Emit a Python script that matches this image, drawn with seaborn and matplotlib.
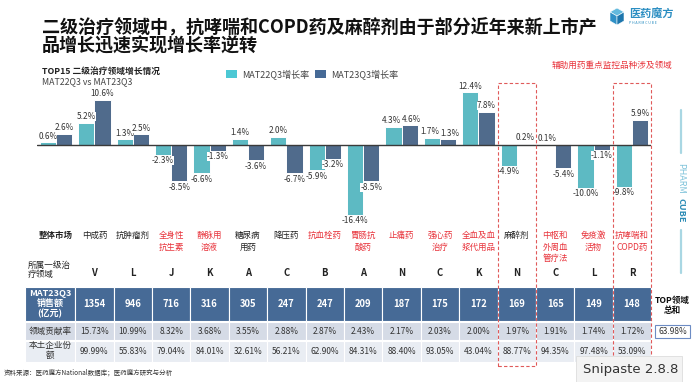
import matplotlib
matplotlib.use("Agg")
import matplotlib.pyplot as plt
import seaborn as sns
import pandas as pd
from matplotlib.patches import Rectangle, Polygon
from matplotlib.transforms import blended_transform_factory

# ---------------- data ----------------
categories = ["整体市场", "中成药", "抗肿瘤剂", "全身性\n抗生素", "静脉用\n溶液", "糖尿病\n用药",
              "降压药", "抗血栓药", "胃肠抗\n酸药", "止痛药", "强心药\n治疗", "全血及血\n浆代用品",
              "麻醉剂", "中枢和\n外周血\n管疗法", "免疫激\n活物", "抗哮喘和\nCOPD药"]
category_red = [False, False, False, True, True, False, False, True, True, True, True, True,
                False, True, True, True]
series_names = ["MAT22Q3增长率", "MAT23Q3增长率"]
growth_mat22 = [0.6, 5.2, 1.3, -2.3, -6.6, 1.4, 2.0, -5.9, -16.4, 4.3, 1.7, 12.4, -4.9, 0.1, -10.0, -9.8]
growth_mat23 = [2.6, 10.6, 2.5, -8.5, -1.3, -3.6, -6.7, -3.2, -8.5, 4.6, 1.3, 7.8, 0.2, -5.4, -1.1, 5.9]
level1_area = ["V", "L", "J", "K", "A", "C", "B", "A", "N", "C", "K", "N", "C", "L", "R"]
sales_mat23 = [1354, 946, 716, 316, 305, 247, 247, 209, 187, 175, 172, 169, 165, 149, 148]
contribution = ["15.73%", "10.99%", "8.32%", "3.68%", "3.55%", "2.88%", "2.87%", "2.43%", "2.17%",
                "2.03%", "2.00%", "1.97%", "1.91%", "1.74%", "1.72%"]
local_share = ["99.99%", "55.83%", "79.04%", "84.01%", "32.61%", "56.21%", "62.90%", "84.31%",
               "88.40%", "93.05%", "43.04%", "88.77%", "94.35%", "97.48%", "53.09%"]
top_total = "63.98%"
highlight_cols = [12, 15]

# ---------------- style ----------------
sns.set_theme(style="white")
plt.rcParams["font.family"] = ["Noto Sans CJK SC", "DejaVu Sans"]

CYAN = "#4cc8d4"
NAVY = "#466a96"
RED = "#e8333b"
TXT = "#333333"

W, H = 692, 382
fig = plt.figure(figsize=(W / 100, H / 100), dpi=100)
fig.patch.set_facecolor("white")

def fx(x):
    return x / W

def fy(y):
    return 1 - y / H

# main bar axes: x -0.5..15.5 -> px 36.8..651.2 ; baseline at px 145, 4.25 px per %
ax_l, ax_r = 36.8, 651.2
ax_t, ax_b = 85, 225
ax = fig.add_axes([fx(ax_l), fy(ax_b), (ax_r - ax_l) / W, (ax_b - ax_t) / H])
ax.set_facecolor("none")

df = pd.DataFrame({
    "cat": categories * 2,
    "val": growth_mat22 + growth_mat23,
    "series": [series_names[0]] * len(categories) + [series_names[1]] * len(categories),
})
sns.barplot(data=df, x="cat", y="val", hue="series", order=categories, hue_order=series_names,
            palette=[CYAN, NAVY], width=0.84, edgecolor="white", linewidth=0.7,
            errorbar=None, legend=False, ax=ax)
ax.set_xlim(-0.5, len(categories) - 0.5)
ax.set_ylim(-(ax_b - 145) / 4.25, (145 - ax_t) / 4.25)
ax.axhline(0, color="#3a3a3a", lw=1.0, zorder=3)
for s in ax.spines.values():
    s.set_visible(False)
ax.set_xticks([])
ax.set_yticks([])
ax.set_xlabel("")
ax.set_ylabel("")

all_anns = []
for cont, vals in zip(ax.containers, [growth_mat22, growth_mat23]):
    anns = ax.bar_label(cont, labels=[f"{v:.1f}%" for v in vals], padding=1.2,
                        fontsize=5.9, color=TXT)
    for a in anns:
        a.set_bbox(dict(boxstyle="square,pad=0.0", facecolor="white", edgecolor="none"))
        a.set_zorder(5)
    all_anns.append(anns)

# nudge neighbouring labels apart when both sit at nearly the same height
for i, (v1, v2) in enumerate(zip(growth_mat22, growth_mat23)):
    if (v1 > 0) == (v2 > 0) and abs(v1 - v2) < 1.0:
        a1, a2 = all_anns[0][i], all_anns[1][i]
        x1, y1 = a1.xyann
        x2, y2 = a2.xyann
        a1.xyann = (x1 - 1.6, y1)
        a2.xyann = (x2 + 1.6, y2)

bt = blended_transform_factory(ax.transData, fig.transFigure)

# ---------------- titles ----------------
fig.text(fx(42), fy(27), "二级治疗领域中，抗哮喘和COPD药及麻醉剂由于部分近年来新上市产",
         fontsize=13, fontweight="bold", color="#111111", va="center", ha="left")
fig.text(fx(42), fy(46), "品增长迅速实现增长率逆转",
         fontsize=13, fontweight="bold", color="#111111", va="center", ha="left")
fig.text(fx(42), fy(71), "TOP15 二级治疗领域增长情况", fontsize=6.3, fontweight="bold",
         color="#222222", va="center", ha="left")
fig.text(fx(42), fy(82), "MAT22Q3 vs MAT23Q3", fontsize=6.3, color="#444444",
         va="center", ha="left")

# legend
for lx, col, name in [(226, CYAN, series_names[0]), (315, NAVY, series_names[1])]:
    fig.patches.append(Rectangle((fx(lx), fy(78)), 11 / W, 8 / H, transform=fig.transFigure,
                                 facecolor=col, edgecolor="none"))
    fig.text(fx(lx + 16), fy(74), name, fontsize=6.5, color="#444444", va="center", ha="left")

fig.text(fx(672), fy(65), "辅助用药重点监控品种涉及领域", fontsize=6.2, color=RED,
         va="center", ha="right")

# logo
cx, cy = 617, 16
top = (fx(cx), fy(cy - 8)); ur = (fx(cx + 7), fy(cy - 4)); lr = (fx(cx + 7), fy(cy + 5))
bot = (fx(cx), fy(cy + 9)); ll = (fx(cx - 7), fy(cy + 5)); ul = (fx(cx - 7), fy(cy - 4))
ctr = (fx(cx), fy(cy))
for pts, col in [([top, ur, ctr, ul], "#63b9dd"), ([ul, ctr, bot, ll], "#2f90c6"),
                 ([ctr, ur, lr, bot], "#1d76ad")]:
    fig.patches.append(Polygon(pts, closed=True, transform=fig.transFigure,
                               facecolor=col, edgecolor="white", lw=0.4))
fig.text(fx(629), fy(14), "医药魔方", fontsize=8, fontweight="bold", color="#2b8ec2",
         va="center", ha="left")
fig.text(fx(629), fy(23.5), "P H A R M C U B E", fontsize=2.6, color="#2b8ec2",
         va="center", ha="left")

# right vertical brand
fig.lines.append(plt.Line2D([fx(681), fx(681)], [fy(110), fy(153)], transform=fig.transFigure,
                            color="#a9d7e3", lw=1.6))
fig.lines.append(plt.Line2D([fx(681), fx(681)], [fy(230), fy(273)], transform=fig.transFigure,
                            color="#a9d7e3", lw=1.6))
fig.text(fx(681), fy(163), "PHARM", rotation=270, fontsize=6.5, color="#7fc3da",
         ha="center", va="top")
fig.text(fx(681), fy(223), "CUBE", rotation=270, fontsize=6.5, fontweight="bold",
         color="#2a8bb5", ha="center", va="bottom")

# ---------------- category labels ----------------
for i, (lab, red) in enumerate(zip(categories, category_red)):
    for k, line in enumerate(lab.split("\n")):
        fig.text(i, fy(235.5 + 11.5 * k), line, transform=bt, fontsize=6.1,
                 color=RED if red else "#222222", ha="center", va="center",
                 fontweight="bold" if i == 0 else "normal")

# 所属一级治疗领域 row
fig.text(fx(28), fy(265.5), "所属一级治", fontsize=6.2, color="#222222", ha="left", va="center")
fig.text(fx(28), fy(274.5), "疗领域", fontsize=6.2, color="#222222", ha="left", va="center")
for i, lv in enumerate(level1_area, start=1):
    fig.text(i, fy(273), lv, transform=bt, fontsize=6.8, fontweight="bold", color="#222222",
             ha="center", va="center")

# ---------------- table ----------------
rows = [(287, 321, NAVY), (322, 340, "#d5dbe6"), (341, 362, "#e9edf3")]
label_x0, label_x1 = 25, 75.2
for (y0, y1, col) in rows:
    fig.patches.append(Rectangle((fx(label_x0), fy(y1)), (label_x1 - label_x0) / W, (y1 - y0) / H,
                                 transform=fig.transFigure, facecolor=col, edgecolor="white",
                                 lw=0.8))
    for i in range(1, len(categories)):
        fig.patches.append(Rectangle((i - 0.5, fy(y1)), 1.0, (y1 - y0) / H, transform=bt,
                                     facecolor=col, edgecolor="white", lw=0.8))

for k, line in enumerate(["MAT23Q3", "销售额", "(亿元)"]):
    fig.text(fx(50), fy(293 + 10.3 * k), line, fontsize=6.5, fontweight="bold", color="white",
             ha="center", va="center")
fig.text(fx(50), fy(331.5), "领域贡献率", fontsize=6.2, color="#333333", ha="center", va="center")
fig.text(fx(50), fy(345.5), "本土企业份", fontsize=6.2, color="#333333", ha="center", va="center")
fig.text(fx(50), fy(355), "额", fontsize=6.2, color="#333333", ha="center", va="center")

for i in range(1, len(categories)):
    fig.text(i, fy(304), str(sales_mat23[i - 1]), transform=bt, fontsize=6.8, fontweight="bold",
             color="white", ha="center", va="center")
    fig.text(i, fy(331.5), contribution[i - 1], transform=bt, fontsize=6.0, color="#333333",
             ha="center", va="center")
    fig.text(i, fy(352), local_share[i - 1], transform=bt, fontsize=6.0, color="#333333",
             ha="center", va="center")

fig.text(fx(672), fy(301), "TOP领域", fontsize=6.2, fontweight="bold", color="#111111",
         ha="center", va="center")
fig.text(fx(672), fy(310.5), "总和", fontsize=6.2, fontweight="bold", color="#111111",
         ha="center", va="center")
fig.patches.append(Rectangle((fx(655), fy(338)), 35 / W, 13 / H, transform=fig.transFigure,
                             facecolor="white", edgecolor="#6d8cc4", lw=0.8))
fig.text(fx(672.5), fy(331.5), top_total, fontsize=6.0, color="#333333", ha="center",
         va="center")

# red dashed highlight boxes
for c in highlight_cols:
    fig.patches.append(Rectangle((c - 0.5, fy(366)), 1.0, (366 - 83) / H, transform=bt,
                                 facecolor="none", edgecolor="#e05a5a", lw=0.8,
                                 linestyle=(0, (3, 2)), zorder=10))

# source note
fig.text(fx(4), fy(373), "资料来源：医药魔方National数据库；医药魔方研究与分析", fontsize=4.7,
         color="#333333", ha="left", va="center")

# screenshot tool popup visible in the reference
popup = Rectangle((fx(576), fy(382)), 106 / W, 26 / H, transform=fig.transFigure,
                  facecolor="#f3f3f3", edgecolor="#dddddd", lw=0.6, zorder=20)
fig.patches.append(popup)
fig.text(fx(583), fy(370), "Snipaste 2.8.8", fontsize=9.5, color="#333333", ha="left",
         va="center", zorder=21, family=["DejaVu Sans"])

fig.savefig("out.png", dpi=100)
